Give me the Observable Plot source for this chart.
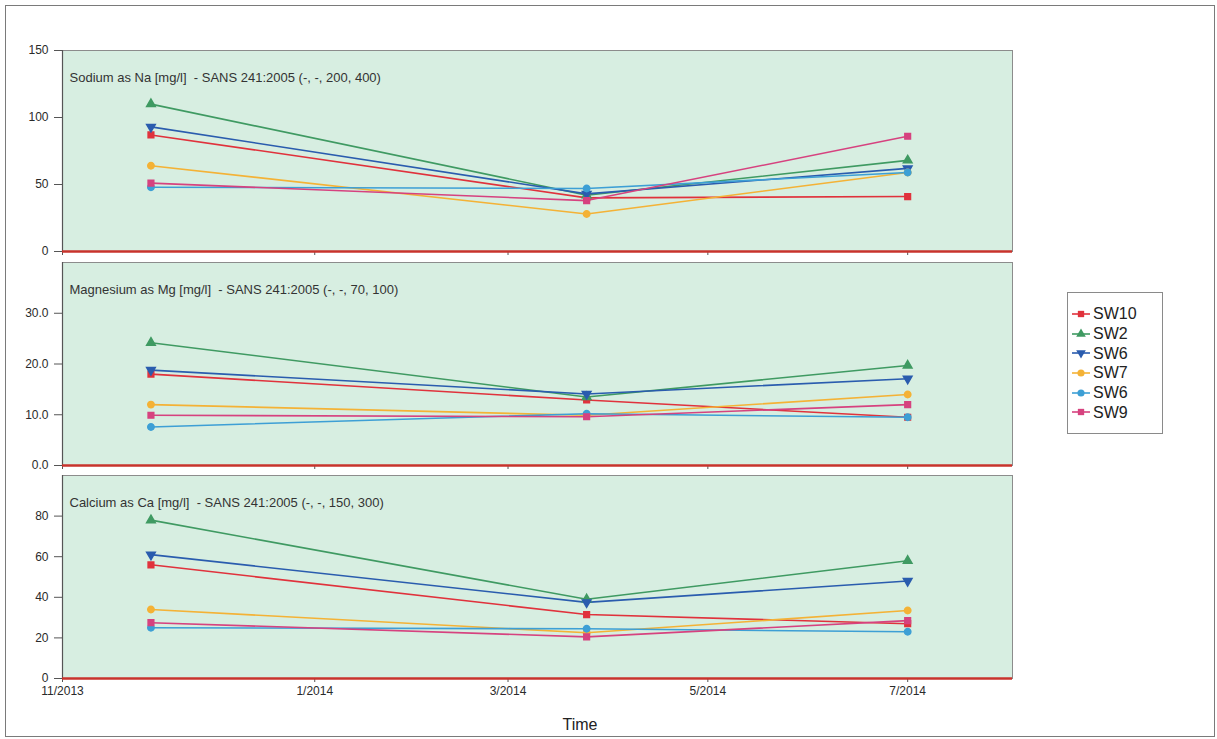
<!DOCTYPE html>
<html><head><meta charset="utf-8">
<script src="https://cdn.jsdelivr.net/npm/d3@7"></script>
<script src="https://cdn.jsdelivr.net/npm/@observablehq/plot@0.6"></script>
<style>
body{margin:0;background:#fff;font-family:"Liberation Sans",Arial,sans-serif;}
#page{position:relative;width:1217px;height:739px;overflow:hidden;}
#frame{position:absolute;left:5px;top:5px;width:1210px;height:732px;border:1.5px solid #7a7a7a;box-sizing:border-box;}
.panel{position:absolute;left:0;}
#legend{position:absolute;left:1067px;top:292px;width:96px;height:142px;border:1px solid #8a8a8a;box-sizing:border-box;background:#fff;padding-top:11px;}
.lrow{height:19.7px;display:flex;align-items:center;font-size:16px;color:#222;line-height:19px;}
.lrow svg{margin-left:4px;margin-right:3px;}
#xlabel{position:absolute;left:540px;top:716px;width:80px;text-align:center;font-size:16px;color:#222;}
</style></head>
<body>
<div id="page"><div id="frame"></div><div id="legend"></div><div id="xlabel">Time</div></div>
<script>
// ---- data ----
const sites = ["SW10", "SW2", "SW6", "SW7", "SW8", "SW9"];
const legendLabels = ["SW10", "SW2", "SW6", "SW7", "SW6", "SW9"];
const siteColors = ["#e0323c", "#3f9a62", "#2a5cae", "#f4b236", "#3d9fd5", "#d6427f"];
const siteSymbols = ["square", "triangle", "triangle", "circle", "circle", "square"];
const siteRotate = [0, 0, 180, 0, 0, 0];
const sampleDates = ["2013-11-12", "2014-03-25", "2014-07-01"];
const xTickDates = ["2013-10-16", "2014-01-01", "2014-03-01", "2014-05-01", "2014-07-01"];
const xTickLabels = ["11/2013", "1/2014", "3/2014", "5/2014", "7/2014"];
const xDomain = ["2013-10-16", "2014-08-02"];
const panelTitles = [
  "Sodium as Na [mg/l]  - SANS 241:2005 (-, -, 200, 400)",
  "Magnesium as Mg [mg/l]  - SANS 241:2005 (-, -, 70, 100)",
  "Calcium as Ca [mg/l]  - SANS 241:2005 (-, -, 150, 300)"
];
// values per site (order of `sites`), one value per sample date
const sodium = [[87, 40, 41], [110, 42, 68], [93, 43, 62], [64, 28, 59], [48, 47, 59], [51, 38, 86]];
const magnesium = [[18, 12.9, 9.5], [24.2, 13.5, 19.7], [18.8, 14.1, 17.1], [12, 9.9, 14], [7.6, 10.2, 9.5], [9.9, 9.6, 12]];
const calcium = [[56, 31.5, 27], [78, 39, 58], [61, 37.5, 48], [34, 22.5, 33.5], [25, 24.5, 23], [27.5, 20.5, 28.5]];
const sodiumTicks = [0, 50, 100, 150];
const magnesiumTicks = [0, 10, 20, 30];
const calciumTicks = [0, 20, 40, 60, 80];

// ---- build ----
const d = s => new Date(s + "T00:00:00Z");
const labelMap = new Map(xTickDates.map((t, i) => [+d(t), xTickLabels[i]]));
function rowsOf(values) {
  return sites.flatMap((s, i) => sampleDates.map((t, j) => ({site: s, date: d(t), value: values[i][j], rot: siteRotate[i]})));
}
const font = "'Liberation Sans', Arial, sans-serif";
function panel(values, yDomain, yTicks, yFormat, title, top, height, marginBottom, showX) {
  const rows = rowsOf(values);
  const chart = Plot.plot({
    width: 1030, height, marginLeft: 62, marginRight: 18, marginTop: 10, marginBottom,
    style: {fontFamily: font, fontSize: "12px", color: "#333", background: "transparent", overflow: "visible"},
    x: {type: "utc", domain: xDomain.map(d), label: null},
    y: {domain: yDomain, label: null},
    color: {domain: sites, range: siteColors},
    symbol: {domain: sites, range: siteSymbols},
    marks: [
      Plot.frame({fill: "#d7eee1", stroke: "#8c8c8c"}),
      Plot.axisY({ticks: yTicks, tickFormat: yFormat, tickSize: 8, tickPadding: 6, fontSize: 12, stroke: "#555", fill: "#2a2a2a"}),
      Plot.axisX({ticks: xTickDates.map(d), tickFormat: t => showX ? labelMap.get(+t) : "", tickSize: 4, tickPadding: 4, fontSize: 12, stroke: "#555", fill: "#2a2a2a"}),
      Plot.ruleX([d(xDomain[0])], {stroke: "#555", strokeWidth: 1.2}),
      Plot.ruleY([0], {stroke: "#c8332c", strokeWidth: 2.5}),
      Plot.text([title], {frameAnchor: "top-left", dx: 7, dy: 22, fontSize: 13, fill: "#333", textAnchor: "start"}),
      Plot.line(rows, {x: "date", y: "value", z: "site", stroke: "site", strokeWidth: 1.6}),
      Plot.dot(rows, {x: "date", y: "value", fill: "site", stroke: "site", symbol: "site", rotate: "rot", r: 3.2})
    ]
  });
  chart.classList.add("panel");
  chart.style.top = top + "px";
  chart.style.position = "absolute";
  document.getElementById("page").appendChild(chart);
}
panel(sodium, [0, 150], sodiumTicks, d3.format("d"), panelTitles[0], 40, 221, 10, false);
panel(magnesium, [0, 40], magnesiumTicks, d3.format(".1f"), panelTitles[1], 252, 223, 10, false);
panel(calcium, [0, 100], calciumTicks, d3.format("d"), panelTitles[2], 465, 243, 30, true);

// ---- legend ----
const legend = document.getElementById("legend");
sites.forEach((s, i) => {
  const row = document.createElement("div");
  row.className = "lrow";
  const sym = {square: d3.symbolSquare, triangle: d3.symbolTriangle, circle: d3.symbolCircle}[siteSymbols[i]];
  const path = d3.symbol(sym, 40)();
  row.innerHTML = `<svg width="18" height="12"><line x1="0" x2="18" y1="6" y2="6" stroke="${siteColors[i]}" stroke-width="1.6"/><path d="${path}" transform="translate(9,6) rotate(${siteRotate[i]})" fill="${siteColors[i]}"/></svg><span>${legendLabels[i]}</span>`;
  legend.appendChild(row);
});
</script>
</body></html>
